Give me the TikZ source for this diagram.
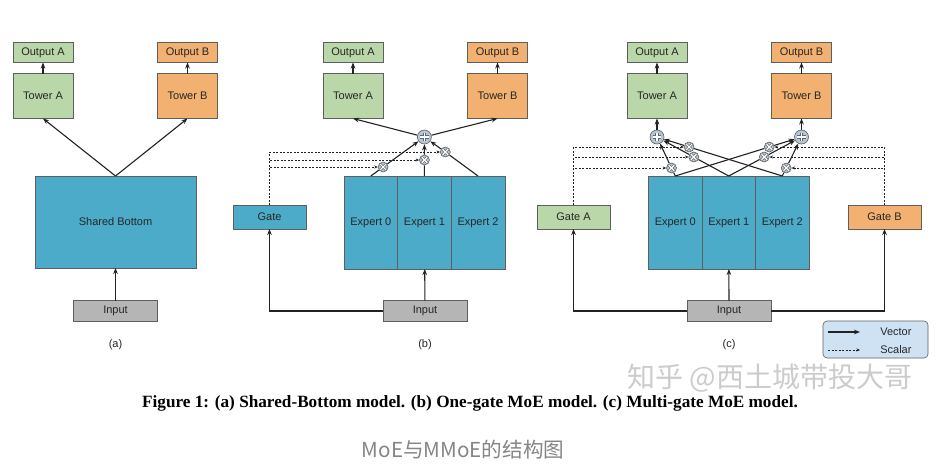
\documentclass[tikz,border=0pt]{standalone}
\usepackage{fontspec}
\setmainfont{Liberation Sans}
\newfontfamily\capfont{Liberation Serif}
\newfontfamily\cjkfont{Noto Sans CJK SC}
\usetikzlibrary{positioning,arrows.meta}

\definecolor{greenfill}{HTML}{B9D7A8}
\definecolor{orangefill}{HTML}{F2B170}
\definecolor{bluefill}{HTML}{4BABC9}
\definecolor{grayfill}{HTML}{B5B5B5}
\definecolor{legendfill}{HTML}{CFE2F3}
\definecolor{knobfill}{HTML}{B4C6D9}
\definecolor{boxline}{HTML}{5F5F5F}
\definecolor{wire}{HTML}{222222}

\begin{document}
\begin{tikzpicture}[%
            x=1pt, y=-1pt,
            >={Stealth[length=6pt,width=4.6pt]},
            node distance=11pt,
            every node/.style={font=\fontsize{11}{13}\selectfont, text=black!85},
            block/.style={%
            	rectangle,
            	draw=boxline,
            	line width=0.6pt,
            	inner sep=0pt,
            	outer sep=0pt,
            	align=center
            },
            output/.style={block, minimum width=60pt, minimum height=20pt},
            tower/.style={block, minimum width=60pt, minimum height=45pt},
            expert/.style={block, fill=bluefill, minimum width=53.6pt, minimum height=93pt},
            gate/.style={block, minimum width=73pt, minimum height=24pt},
            input/.style={block, fill=grayfill, minimum width=84pt, minimum height=21pt},
            sum/.style={%
            	circle,
            	draw=boxline,
            	fill=knobfill,
            	line width=0.6pt,
            	minimum size=14pt,
            	inner sep=0pt,
            	path picture={%
            		\foreach \w/\c in {3.6pt/black!60,1.8pt/white}
            		\draw[\c, line width=\w]
            			([xshift=-4.2pt]path picture bounding box.center) -- ([xshift=4.2pt]path picture bounding box.center)
            			([yshift=-4.2pt]path picture bounding box.center) -- ([yshift=4.2pt]path picture bounding box.center);
            	}
            },
            mul/.style={%
            	circle,
            	draw=boxline,
            	fill=knobfill,
            	line width=0.6pt,
            	minimum size=10pt,
            	inner sep=0pt,
            	path picture={%
            		\foreach \w/\c in {2.6pt/black!60,1.2pt/white}
            		\draw[\c, line width=\w]
            			([shift={(-2.7pt,-2.7pt)}]path picture bounding box.center) -- ([shift={(2.7pt,2.7pt)}]path picture bounding box.center)
            			([shift={(-2.7pt,2.7pt)}]path picture bounding box.center) -- ([shift={(2.7pt,-2.7pt)}]path picture bounding box.center);
            	}
            },
            vec/.style={->, draw=wire, line width=1.1pt},
            sca/.style={-{Stealth[length=3.5pt,width=3pt]}, draw=wire, line width=0.6pt, dash pattern=on 2pt off 1.5pt}
            ]
            \fill[white] (0,0) rectangle (936,474);
            \useasboundingbox (0,0) rectangle (936,474);

            % (a)
            \node[block, fill=bluefill, minimum width=161pt, minimum height=92pt] (sb) at (115.5,222) {Shared Bottom};
            \node[tower, fill=greenfill] (atA) at (43,96)        {Tower A};
            \node[output, fill=greenfill] (aoA) [above=of atA]  {Output A};
            \node[tower, fill=orangefill] (atB) at (187.5,96)   {Tower B};
            \node[output, fill=orangefill] (aoB) [above=of atB] {Output B};
            \node[input] (ain) at (115.5,311)                    {Input};
            \node (alab) at (115.5,345)                          {(a)};

            \draw[vec] (ain) -- (sb);
            \draw[vec] (sb.north) -- (atA.south);
            \draw[vec] (sb.north) -- (atB.south);
            \draw[vec] (atA) -- (aoA);
            \draw[vec] (atB) -- (aoB);

            % (b)
            \node[expert] (be0) at (370.8,222.5)                 {Expert 0};
            \node[expert] (be1) [right=0pt of be0]               {Expert 1};
            \node[expert] (be2) [right=0pt of be1]               {Expert 2};
            \node[gate, fill=bluefill] (bg) at (269.5,217)       {Gate};
            \node[input] (bin) at (425,311)                      {Input};
            \node[tower, fill=greenfill] (btA) at (353,96)       {Tower A};
            \node[output, fill=greenfill] (boA) [above=of btA]  {Output A};
            \node[tower, fill=orangefill] (btB) at (497.5,96)   {Tower B};
            \node[output, fill=orangefill] (boB) [above=of btB] {Output B};
            \node[sum] (bs) at (424.4,137)                       {};
            \node[mul] (bm0) at (383.1,167)                      {};
            \node[mul] (bm1) at (424.4,160)                      {};
            \node[mul] (bm2) at (445.3,152)                      {};
            \node (blab) at (425,345)                            {(b)};

            \draw[sca] (bg.north) |- (bm0);
            \draw[sca] (bg.north) |- (bm1);
            \draw[sca] (bg.north) |- (bm2);
            \draw[vec] (be0.north) -- (bm0) -- (bs);
            \draw[vec] (be1.north) -- (bm1) -- (bs);
            \draw[vec] (be2.north) -- (bm2) -- (bs);
            \draw[vec] (bs) -- (btA.south);
            \draw[vec] (bs) -- (btB.south);
            \draw[vec] (btA) -- (boA);
            \draw[vec] (btB) -- (boB);
            \draw[vec] (bin) -- (be1);
            \draw[vec] (bin.west) -| (bg.south);

            % (c)
            \node[expert, minimum width=53.5pt] (ce0) at (675.25,222.5) {Expert 0};
            \node[expert, minimum width=53.5pt] (ce1) [right=0pt of ce0] {Expert 1};
            \node[expert, minimum width=53.5pt] (ce2) [right=0pt of ce1] {Expert 2};
            \node[gate, fill=greenfill] (cgA) at (573.5,217)     {Gate A};
            \node[gate, fill=orangefill] (cgB) at (884.5,217)    {Gate B};
            \node[input] (cin) at (729,311)                      {Input};
            \node[tower, fill=greenfill] (ctA) at (657,96)       {Tower A};
            \node[output, fill=greenfill] (coA) [above=of ctA]  {Output A};
            \node[tower, fill=orangefill] (ctB) at (801.5,96)   {Tower B};
            \node[output, fill=orangefill] (coB) [above=of ctB] {Output B};
            \node[sum] (csA) at (657,137)                        {};
            \node[sum] (csB) at (801.5,137)                      {};
            \node[mul] (ca0) at (671.5,168)                      {};
            \node[mul] (ca1) at (693.8,157)                      {};
            \node[mul] (ca2) at (689.1,147)                      {};
            \node[mul] (cb0) at (769.2,147)                      {};
            \node[mul] (cb1) at (764.2,157)                      {};
            \node[mul] (cb2) at (786.2,168)                      {};
            \node (clab) at (729,345)                            {(c)};

            \draw[sca] (cgA.north) |- (ca0);
            \draw[sca] (cgA.north) |- (ca1);
            \draw[sca] (cgA.north) |- (ca2);
            \draw[sca] (cgB.north) |- (cb0);
            \draw[sca] (cgB.north) |- (cb1);
            \draw[sca] (cgB.north) |- (cb2);
            \draw[vec] (ce0.north) -- (ca0) -- (csA);
            \draw[vec] (ce1.north) -- (ca1) -- (csA);
            \draw[vec] (ce2.north) -- (ca2) -- (csA);
            \draw[vec] (ce0.north) -- (cb0) -- (csB);
            \draw[vec] (ce1.north) -- (cb1) -- (csB);
            \draw[vec] (ce2.north) -- (cb2) -- (csB);
            \draw[vec] (csA) -- (ctA);
            \draw[vec] (csB) -- (ctB);
            \draw[vec] (ctA) -- (coA);
            \draw[vec] (ctB) -- (coB);
            \draw[vec] (cin) -- (ce1);
            \draw[vec] (cin.west) -| (cgA.south);
            \draw[vec] (cin.east) -| (cgB.south);

            % legend
            \node[block, fill=legendfill, rounded corners=4pt, minimum width=105pt, minimum height=37pt] (leg) at (875.5,339.5) {};
            \coordinate (v0) at (828,332);
            \coordinate (v1) at (860,332);
            \coordinate (s0) at (828,350);
            \coordinate (s1) at (860,350);
            \draw[vec] (v0) -- (v1);
            \draw[sca] (s0) -- (s1);
            \node[anchor=east] (vtxt) at (915,332) {Vector};
            \node[anchor=east] (stxt) at (915,350) {Scalar};

            % captions
            \node[font=\cjkfont\fontsize{28}{32}\selectfont, text=black!20] (mark) at (770,378) {知乎 @西土城带投大哥};
            \node[font=\capfont\bfseries\fontsize{17.2}{20}\selectfont, text=black] (cap) at (470,403)
            	{Figure 1: (a) Shared-Bottom model. (b) One-gate MoE model. (c) Multi-gate MoE model.};
            \node[font=\cjkfont\fontsize{20.6}{24}\selectfont, text=black!48] (sub) at (463,450) {MoE与MMoE的结构图};
\end{tikzpicture}
\end{document}
